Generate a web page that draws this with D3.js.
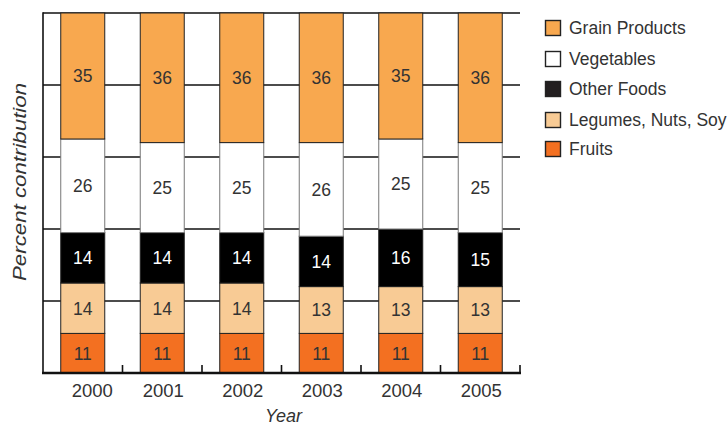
<!DOCTYPE html>
<html>
<head>
<meta charset="utf-8">
<script src="https://cdn.jsdelivr.net/npm/d3@7"></script>
<style>
  html, body { margin: 0; padding: 0; background: #fff; }
  svg { display: block; font-family: "Liberation Sans", Arial, Helvetica, sans-serif; }
</style>
</head>
<body>
<svg id="chart" width="728" height="426"></svg>
<script>
// Share of each food group by year (percent)
const years = ["2000", "2001", "2002", "2003", "2004", "2005"];
const seriesNames = ["Fruits", "Legumes, Nuts, Soy", "Other Foods", "Vegetables", "Grain Products"];
const fruits     = [11, 11, 11, 11, 11, 11];
const legumes    = [14, 14, 14, 13, 13, 13];
const otherFoods = [14, 14, 14, 14, 16, 15];
const vegetables = [26, 25, 25, 26, 25, 25];
const grains     = [35, 36, 36, 36, 35, 36];
const gridTicks  = [20, 40, 60, 80, 100];
const legendOrder = ["Grain Products", "Vegetables", "Other Foods", "Legumes, Nuts, Soy", "Fruits"];

const colors = {
  "Fruits": "#F37021",
  "Legumes, Nuts, Soy": "#F8CB95",
  "Other Foods": "#000000",
  "Vegetables": "#FFFFFF",
  "Grain Products": "#F8A84F"
};
const legendColors = Object.assign({}, colors, { "Other Foods": "#231F20" });

const valuesBySeries = {
  "Fruits": fruits,
  "Legumes, Nuts, Soy": legumes,
  "Other Foods": otherFoods,
  "Vegetables": vegetables,
  "Grain Products": grains
};

const table = years.map((yr, i) => {
  const row = { year: yr };
  seriesNames.forEach(s => { row[s] = valuesBySeries[s][i]; });
  return row;
});

const svg = d3.select("#chart");
const plotLeft = 43, plotRight = 520, plotTop = 13, plotBottom = 373;

const pad = 0.4465;
const x = d3.scaleBand().domain(years).range([plotLeft, plotRight])
  .paddingInner(pad).paddingOuter(pad / 2);
const y = d3.scaleLinear().domain([0, 100]).range([plotBottom, plotTop]);
const step = x.step();

// horizontal gridlines (behind the bars)
svg.append("g").selectAll("line").data(gridTicks).join("line")
  .attr("x1", plotLeft).attr("x2", plotRight)
  .attr("y1", d => y(d)).attr("y2", d => y(d))
  .attr("stroke", "#111").attr("stroke-width", 1.5);

// stacked bars
const stack = d3.stack().keys(seriesNames)(table);
const layers = svg.append("g").selectAll("g").data(stack).join("g")
  .attr("fill", d => colors[d.key]);

layers.selectAll("rect").data(d => d.map(v => Object.assign(v, { key: d.key }))).join("rect")
  .attr("x", d => x(d.data.year))
  .attr("width", x.bandwidth())
  .attr("y", d => y(d[1]))
  .attr("height", d => y(d[0]) - y(d[1]))
  .attr("stroke", d => d.key === "Vegetables" ? "#777" : "#222")
  .attr("stroke-width", 1);

// segment value labels
layers.selectAll("text").data(d => d).join("text")
  .attr("x", d => x(d.data.year) + x.bandwidth() / 2)
  .attr("y", d => (y(d[0]) + y(d[1])) / 2)
  .attr("dy", "0.36em")
  .attr("text-anchor", "middle")
  .attr("font-size", 17.5)
  .attr("fill", d => d.key === "Other Foods" ? "#fff" : "#333")
  .text(d => d[1] - d[0]);

// left axis line
svg.append("line")
  .attr("x1", plotLeft).attr("x2", plotLeft)
  .attr("y1", plotTop - 0.8).attr("y2", plotBottom)
  .attr("stroke", "#111").attr("stroke-width", 1.6);

// bottom axis line with ticks between categories
svg.append("line")
  .attr("x1", plotLeft - 1).attr("x2", plotRight + 1)
  .attr("y1", plotBottom).attr("y2", plotBottom)
  .attr("stroke", "#111").attr("stroke-width", 2.4);

svg.append("g").selectAll("line").data(years).join("line")
  .attr("x1", d => x(d) - step * pad / 2 + step)
  .attr("x2", d => x(d) - step * pad / 2 + step)
  .attr("y1", plotBottom).attr("y2", plotBottom - 8)
  .attr("stroke", "#111").attr("stroke-width", 1.6);

// category labels (the first one sits a little right of its bar)
const labelNudge = { "2000": 8.5 };
svg.append("g").selectAll("text").data(years).join("text")
  .attr("x", d => x(d) + x.bandwidth() / 2 + 1 + (labelNudge[d] || 0))
  .attr("y", 397)
  .attr("text-anchor", "middle")
  .attr("font-size", 18.5)
  .attr("fill", "#333")
  .text(d => d);

// axis titles
svg.append("text")
  .attr("x", (plotLeft + plotRight) / 2 + 2).attr("y", 422)
  .attr("text-anchor", "middle")
  .attr("font-size", 18).attr("font-style", "italic")
  .attr("fill", "#333")
  .text("Year");

svg.append("text")
  .attr("transform", "translate(26,182) rotate(-90)")
  .attr("text-anchor", "middle")
  .attr("font-size", 18).attr("font-style", "italic")
  .attr("textLength", 198).attr("lengthAdjust", "spacingAndGlyphs")
  .attr("fill", "#333")
  .text("Percent contribution");

// legend
const legendY = [28, 59, 89, 120, 149];
const legend = svg.append("g").selectAll("g").data(legendOrder).join("g")
  .attr("transform", (d, i) => `translate(545.5,${legendY[i]})`);
legend.append("rect")
  .attr("x", 0).attr("y", -7.5).attr("width", 15).attr("height", 15)
  .attr("fill", d => legendColors[d])
  .attr("stroke", "#222").attr("stroke-width", 1.4);
legend.append("text")
  .attr("x", 23.5).attr("y", 0).attr("dy", "0.36em")
  .attr("font-size", 17.5).attr("fill", "#333")
  .text(d => d);
</script>
</body>
</html>
